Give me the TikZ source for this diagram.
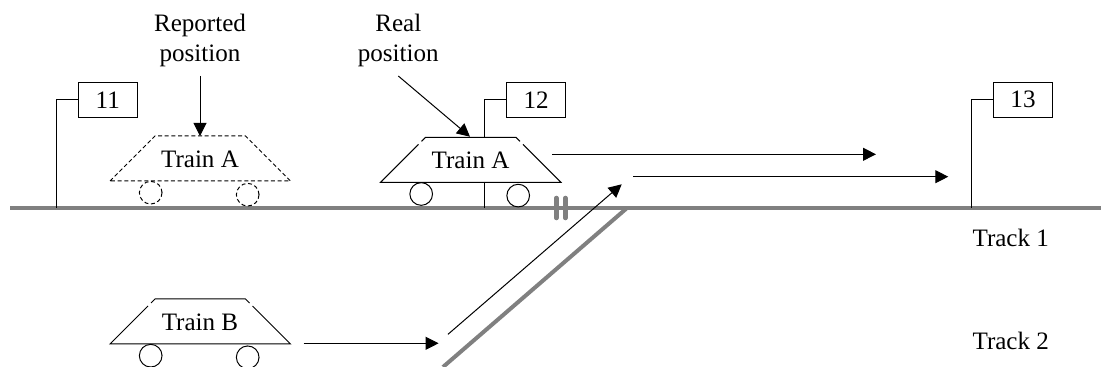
\documentclass[tikz,border=0pt]{standalone}
\usepackage{fontspec}
\setmainfont{Liberation Serif}
\usetikzlibrary{positioning}
\usetikzlibrary{arrows.meta}
\usetikzlibrary{calc}

\tikzset{
    rail/.style={draw=black!50, line width=3pt},
    thinline/.style={line width=0.75pt},
    move/.style={thinline, -{Triangle[length=9.75pt,width=9.75pt]}},
    lbl/.style={font=\fontsize{18.8}{22.5}\selectfont, inner sep=0pt, align=center},
    sensorbox/.style={lbl, draw, thinline, minimum width=44.25pt, minimum height=26.25pt}
}

\begin{document}
\begin{tikzpicture}[x=0.75pt,y=-0.75pt]
                \useasboundingbox (0,0) rectangle (1101,367);
                % Define the coordinates of the track points
                \coordinate (trackstart) at (10,208);
                \coordinate (trackend) at (1101,208);
                \coordinate (branchtop) at (627,208);
                \coordinate (branchend) at (443,367);

                \draw[rail] (trackstart) -- (trackend);
                \draw[rail] (branchtop) -- (branchend);

                % Insulated joint
                \coordinate (jointa) at (556.3,198);
                \coordinate (jointb) at (556.3,218);
                \coordinate (jointc) at (565.3,198);
                \coordinate (jointd) at (565.3,218);
                \draw[rail, line width=3.4pt, line cap=round] (jointa) -- (jointb);
                \draw[rail, line width=3.4pt, line cap=round] (jointc) -- (jointd);

                % Signals
                \foreach \name/\xbox/\xfoot/\yfoot in {11/107.8/56/208, 12/536.2/484.3/137, 13/1023/971/208} {
                    \node[sensorbox] (box\name) at (\xbox,99.8) {\name};
                    \coordinate (foot\name) at (\xfoot,\yfoot);
                    \draw[thinline] (foot\name) |- (box\name.west);
                }
                \coordinate (stema) at (484.3,182);
                \coordinate (stemb) at (484.3,208);
                \draw[thinline] (stema) -- (stemb);

                % Trains with a solid outline
                \foreach \train/\xpos/\ypos/\label in {real/380.5/182.3/Train A, second/110/344/Train B} {
                    \begin{scope}[shift={(\xpos,\ypos)}]
                        \draw[thinline] (38,-38) -- (0,0) -- (180.5,0) -- (142.5,-38);
                        \draw[thinline] (41,-41) -- (45,-45) -- (135.5,-45) -- (139.5,-41);
                        \node[lbl] (\train) at (90,-22) {\label};
                        \draw[thinline] (40.7,11.7) circle (8.5pt);
                        \draw[thinline] (137.7,13.3) circle (8.5pt);
                    \end{scope}
                }

                % Reported train is dashed
                \begin{scope}[shift={(110,181)}]
                    \draw[thinline, densely dashed] (0,0) -- (45,-45) -- (135.5,-45) -- (180.5,0) -- cycle;
                    \node[lbl] (reported) at (90,-22) {Train A};
                    \draw[thinline, densely dashed] (40.7,11.7) circle (8.5pt);
                    \draw[thinline, densely dashed] (137.7,13.7) circle (8.5pt);
                \end{scope}

                % Position labels and their arrows
                \node[lbl] (reportedpos) at (200,40.5) {Reported\\position};
                \node[lbl] (realpos) at (398.3,40.5) {Real\\position};
                \coordinate (reportedfrom) at (200,76);
                \coordinate (reportedto) at (200,136);
                \coordinate (realfrom) at (398.3,76);
                \coordinate (realto) at (470,136.7);
                \draw[move] (reportedfrom) -- (reportedto);
                \draw[move] (realfrom) -- (realto);

                % Movement arrows
                \foreach \pa/\pb/\xa/\ya/\xb/\yb in {ma/mb/552.3/154.3/876/154.3, mc/md/633.3/176.7/948.3/176.7, me/mf/303.6/343.3/438.6/343.3, mg/mh/448/334.3/621.7/184.3} {
                    \coordinate (\pa) at (\xa,\ya);
                    \coordinate (\pb) at (\xb,\yb);
                    \draw[move] (\pa) -- (\pb);
                }

                \node[lbl, anchor=west] (trackone) at (972.3,238) {Track 1};
                \node[lbl, anchor=west] (tracktwo) at (972.3,340.7) {Track 2};
            \end{tikzpicture}
\end{document}
